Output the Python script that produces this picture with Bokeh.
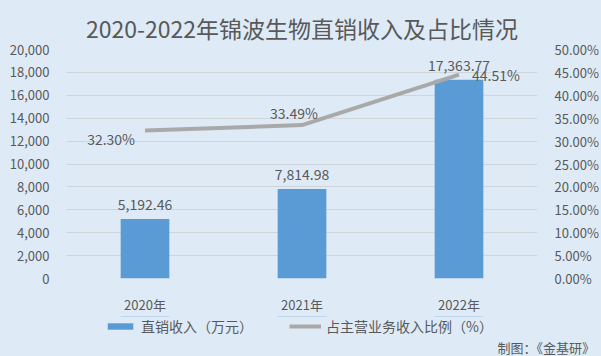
from bokeh.plotting import figure
from bokeh.layouts import column
from bokeh.models import (Range1d, LinearAxis, NumeralTickFormatter, PrintfTickFormatter,
                          Legend, LegendItem, Title, FixedTicker, FactorRange, Div)
from bokeh.core.properties import value
from bokeh.embed import file_html
from bokeh.resources import INLINE

years = ["2020年", "2021年", "2022年"]
revenue = [5192.46, 7814.98, 17363.77]
share = [32.30, 33.49, 44.51]
revenue_labels = ["5,192.46", "7,814.98", "17,363.77"]
share_labels = ["32.30%", "33.49%", "44.51%"]
title_text = "2020-2022年锦波生物直销收入及占比情况"
source_text = "制图：《金基研》"
series_names = ["直销收入（万元）", "占主营业务收入比例（%）"]

FONT = "Noto Sans CJK SC"
TXT = "#595959"
BG = "#DEEBF7"
BAR_C = "#5B9BD5"
LINE_C = "#A9A9A9"

p = figure(width=601, height=316, x_range=years, y_range=Range1d(0, 20000),
           output_backend="svg", toolbar_location=None,
           min_border_left=66, min_border_right=64, min_border_top=49, min_border_bottom=38)
p.background_fill_color = BG
p.border_fill_color = BG
p.outline_line_color = None
p.extra_y_ranges = {"pct": Range1d(0, 50)}

p.yaxis.ticker = FixedTicker(ticks=list(range(0, 20001, 2000)))
p.yaxis.formatter = NumeralTickFormatter(format="0,0")
for ax in [p.xaxis[0], p.yaxis[0]]:
    ax.axis_line_color = None
    ax.major_tick_line_color = None
    ax.minor_tick_line_color = None
    ax.major_label_text_font = FONT
    ax.major_label_text_font_size = "13px"
    ax.major_label_text_color = TXT
p.yaxis.major_label_standoff = 11
p.xaxis.major_label_standoff = 10
p.xgrid.grid_line_color = None
p.ygrid.grid_line_color = "#D0D5DA"
p.ygrid.grid_line_width = 1

rax = LinearAxis(y_range_name="pct", ticker=FixedTicker(ticks=list(range(0, 51, 5))),
                 formatter=PrintfTickFormatter(format="%.2f%%"))
rax.axis_line_color = None
rax.major_tick_line_color = None
rax.minor_tick_line_color = None
rax.major_label_text_font = FONT
rax.major_label_text_font_size = "13px"
rax.major_label_text_color = TXT
rax.major_label_standoff = 11
p.add_layout(rax, "right")

p.vbar(x=years, top=revenue, width=0.31, fill_color=BAR_C, line_color=None)
p.line(x=years, y=share, y_range_name="pct", line_color=LINE_C, line_width=4)

p.text(x=years, y=revenue, text=revenue_labels, text_align="center", text_baseline="bottom",
       y_offset=-9, text_font=value(FONT), text_font_size="14px", text_color=TXT)

placements = [("right", "middle", -10, 8), ("center", "middle", -8, -12), ("left", "middle", 13, 0)]
for i, (al, bl, dx, dy) in enumerate(placements):
    p.text(x=[years[i]], y=[share[i]], text=[share_labels[i]], y_range_name="pct",
           text_align=al, text_baseline=bl, x_offset=dx, y_offset=dy,
           text_font=value(FONT), text_font_size="14px", text_color=TXT)

t = Title(text=title_text, align="center", text_font=FONT, text_font_size="23px",
          text_color=TXT, text_font_style="normal")
p.add_layout(t, "above")

# legend strip (its series glyphs lie outside its visible range)
q = figure(width=601, height=24, x_range=FactorRange(*years), y_range=Range1d(-2, -1),
           output_backend="svg", toolbar_location=None,
           x_axis_location=None, y_axis_location=None, min_border=0)
q.background_fill_color = BG
q.border_fill_color = BG
q.outline_line_color = None
q.xgrid.grid_line_color = None
q.ygrid.grid_line_color = None
rb = q.vbar(x=years, top=revenue, width=0.31, fill_color=BAR_C, line_color=None)
rl = q.line(x=years, y=share, line_color=LINE_C, line_width=4)
legend = Legend(items=[LegendItem(label=series_names[0], renderers=[rb]),
                       LegendItem(label=series_names[1], renderers=[rl])],
                orientation="horizontal", location=(38, 4),
                background_fill_alpha=0, border_line_color=None,
                label_text_font=FONT, label_text_font_size="14px", label_text_color=TXT,
                label_height=16, glyph_width=32, glyph_height=8, label_standoff=5, spacing=36,
                padding=0, margin=0)
q.add_layout(legend, "center")

src = Div(text=source_text, width=601, height=16,
          styles={"background-color": BG, "font-family": FONT, "font-size": "13px",
                  "color": TXT, "text-align": "right", "line-height": "6px",
                  "padding-right": "11px", "box-sizing": "border-box", "overflow": "visible"})

layout = column(p, q, src, spacing=0, styles={"background-color": BG})
open("out.html", "w").write(file_html(layout, INLINE))
